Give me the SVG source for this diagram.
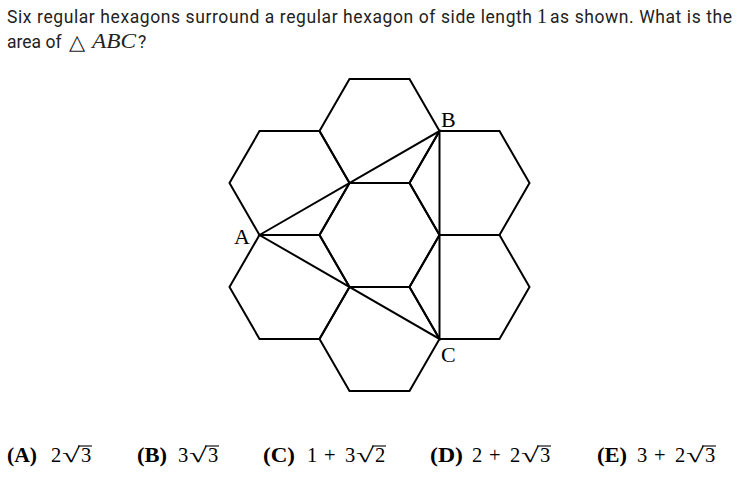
<svg xmlns="http://www.w3.org/2000/svg" xmlns:xlink="http://www.w3.org/1999/xlink" width="742" height="478" viewBox="0 0 742 478">
<style>
.t{font-family:Roboto,"Liberation Sans",sans-serif;font-size:17.5px;fill:#222}
.m{font-family:"Liberation Serif",serif;font-size:20px;fill:#222}
.mi{font-family:"Liberation Serif",serif;font-size:21px;font-style:italic;fill:#222}
.lab{font-family:"Liberation Serif",serif;font-size:22px;fill:#000}
.a{font-family:"Liberation Serif",serif;font-size:20.5px;fill:#000}
.ab{font-family:"Liberation Serif",serif;font-size:20.5px;font-weight:bold;fill:#000}
.hex{fill:none;stroke:#000;stroke-width:2;stroke-linejoin:miter}
.bar{stroke:#000;stroke-width:1.1}
</style>
<defs>
<polygon id="hx" points="-60,0 -30,-51.96 30,-51.96 60,0 30,51.96 -30,51.96"/>
</defs>
<rect width="742" height="478" fill="#fff"/>
<text class="t" x="7" y="23" textLength="525" lengthAdjust="spacing">Six regular hexagons surround a regular hexagon of side length</text>
<text class="m" x="537" y="23">1</text>
<text class="t" x="550" y="23" textLength="182" lengthAdjust="spacing">as shown. What is the</text>
<text class="t" x="7" y="48">area of</text>
<text x="69" y="48.5" style="font-family:'DejaVu Sans',sans-serif;font-size:21px;fill:#222">△</text>
<text class="mi" x="92" y="48" textLength="44" lengthAdjust="spacingAndGlyphs">ABC</text>
<text class="t" x="138" y="48">?</text>
<g id="hex-center"><use xlink:href="#hx" class="hex" transform="translate(379.5,235)"/></g>
<g id="hex-top"><use xlink:href="#hx" class="hex" transform="translate(379.5,131.08)"/></g>
<g id="hex-bottom"><use xlink:href="#hx" class="hex" transform="translate(379.5,338.92)"/></g>
<g id="hex-upper-left"><use xlink:href="#hx" class="hex" transform="translate(289.5,183.04)"/></g>
<g id="hex-lower-left"><use xlink:href="#hx" class="hex" transform="translate(289.5,286.96)"/></g>
<g id="hex-upper-right"><use xlink:href="#hx" class="hex" transform="translate(469.5,183.04)"/></g>
<g id="hex-lower-right"><use xlink:href="#hx" class="hex" transform="translate(469.5,286.96)"/></g>
<g id="connectors">
<polygon class="hex" points="259.5,235 439.5,131.08 439.5,338.92"/>
</g>
<g id="label-A"><text class="lab" x="234" y="244">A</text></g>
<g id="label-B"><text class="lab" x="441" y="127">B</text></g>
<g id="label-C"><text class="lab" x="441" y="362">C</text></g>
<g id="answers">
<text class="ab" x="7" y="462" textLength="30" lengthAdjust="spacingAndGlyphs">(A)</text>
<text class="a" x="51" y="462">2</text>
<text class="a" x="62" y="462" textLength="18" lengthAdjust="spacingAndGlyphs">√</text>
<line class="bar" x1="78" y1="446" x2="92" y2="446"/>
<text class="a" x="81" y="462">3</text>

<text class="ab" x="137" y="462" textLength="30" lengthAdjust="spacingAndGlyphs">(B)</text>
<text class="a" x="178" y="462">3</text>
<text class="a" x="189" y="462" textLength="18" lengthAdjust="spacingAndGlyphs">√</text>
<line class="bar" x1="205" y1="446" x2="219" y2="446"/>
<text class="a" x="208" y="462">3</text>

<text class="ab" x="263" y="462" textLength="32" lengthAdjust="spacingAndGlyphs">(C)</text>
<text class="a" x="307" y="462">1</text>
<text class="a" x="324" y="462">+</text>
<text class="a" x="345" y="462">3</text>
<text class="a" x="356" y="462" textLength="18" lengthAdjust="spacingAndGlyphs">√</text>
<line class="bar" x1="372" y1="446" x2="386" y2="446"/>
<text class="a" x="375" y="462">2</text>

<text class="ab" x="430" y="462" textLength="33" lengthAdjust="spacingAndGlyphs">(D)</text>
<text class="a" x="472" y="462">2</text>
<text class="a" x="489" y="462">+</text>
<text class="a" x="510" y="462">2</text>
<text class="a" x="521" y="462" textLength="18" lengthAdjust="spacingAndGlyphs">√</text>
<line class="bar" x1="537" y1="446" x2="551" y2="446"/>
<text class="a" x="540" y="462">3</text>

<text class="ab" x="597" y="462" textLength="30" lengthAdjust="spacingAndGlyphs">(E)</text>
<text class="a" x="637" y="462">3</text>
<text class="a" x="654" y="462">+</text>
<text class="a" x="675" y="462">2</text>
<text class="a" x="686" y="462" textLength="18" lengthAdjust="spacingAndGlyphs">√</text>
<line class="bar" x1="702" y1="446" x2="716" y2="446"/>
<text class="a" x="705" y="462">3</text>
</g>
</svg>
